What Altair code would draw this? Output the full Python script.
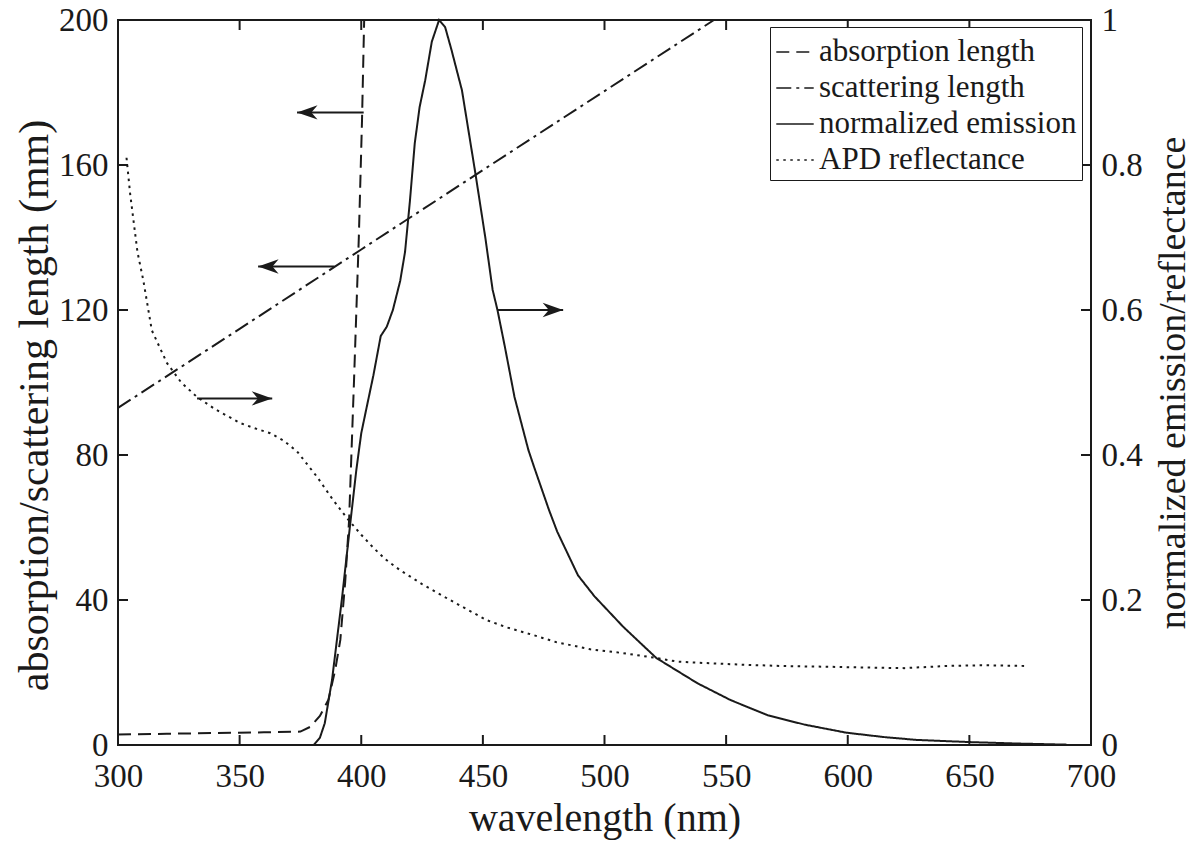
import altair as alt
import pandas as pd

# ---------------- data ----------------
series_names = ["absorption length", "scattering length", "normalized emission", "APD reflectance"]

abs_nm = [300, 320, 340, 360, 375, 379, 383, 386.5, 389.3, 391.4, 393.4, 395.0, 397.0, 399.0, 400.3, 401.2]
abs_mm = [2.9, 3.1, 3.3, 3.5, 3.7, 5.0, 8.0, 12.5, 20.7, 29.0, 45.0, 62.0, 100.0, 140.0, 172.0, 200.0]

sca_nm = [300, 350, 400, 450, 500, 545]
sca_mm = [93.0, 114.8, 136.7, 158.6, 180.4, 200.0]

emi_nm = [380.5, 383, 385, 388, 390, 392, 395.5, 398, 400, 402.3, 405, 408, 410.5, 413, 416, 418, 420,
          422, 424, 426.3, 429, 432, 434.5, 437, 441.4, 446.9, 451, 454, 456, 459, 463, 468.7, 471.2,
          477.2, 480.6, 489.1, 495.9, 507.7, 521.3, 538.3, 551.8, 567.1, 582.4, 599.4, 614.7, 628.3,
          650.4, 670, 690]
emi_v = [0.0, 0.01, 0.03, 0.09, 0.145, 0.2, 0.306, 0.38, 0.43, 0.467, 0.51, 0.564, 0.577, 0.6, 0.64,
         0.68, 0.75, 0.83, 0.88, 0.917, 0.97, 1.0, 0.99, 0.96, 0.903, 0.789, 0.7, 0.628, 0.6, 0.55,
         0.48, 0.407, 0.382, 0.324, 0.294, 0.234, 0.205, 0.163, 0.12, 0.085, 0.062, 0.041, 0.028,
         0.017, 0.011, 0.007, 0.004, 0.002, 0.0005]

ref_nm = [303.5, 305, 308, 310.4, 313.9, 320.1, 326, 332.5, 340, 350.3, 357, 362.6, 368, 373.6, 381.8,
          388, 394.1, 400, 405, 410, 416, 425, 436.5, 451.7, 460, 470.4, 480, 494.2, 507, 521.3, 530,
          541.7, 555, 572.2, 590, 606.2, 623.2, 640.2, 655, 674.1]
ref_v = [0.81, 0.76, 0.68, 0.641, 0.572, 0.527, 0.5, 0.48, 0.463, 0.444, 0.436, 0.43, 0.42, 0.405,
         0.37, 0.34, 0.313, 0.29, 0.272, 0.256, 0.241, 0.222, 0.2, 0.172, 0.162, 0.152, 0.142, 0.132,
         0.127, 0.12, 0.115, 0.113, 0.111, 0.109, 0.108, 0.107, 0.106, 0.109, 0.11, 0.109]

# annotation arrows: (from, tip, level)
arrows_left_from = [401.0, 389.0]
arrows_left_tip = [373.6, 357.6]
arrows_left_y = [174.5, 132.0]
arrows_right_from = [456.2, 332.5]
arrows_right_tip = [483.0, 363.4]
arrows_right_y = [0.6, 0.478]

x_ticks = [300, 350, 400, 450, 500, 550, 600, 650, 700]
yl_ticks = [0, 40, 80, 120, 160, 200]
yr_ticks = [0, 0.2, 0.4, 0.6, 0.8, 1.0]

# ---------------- tables ----------------
left_df = pd.concat([
    pd.DataFrame({"nm": abs_nm, "val": abs_mm, "series": series_names[0], "o": range(len(abs_nm))}),
    pd.DataFrame({"nm": sca_nm, "val": sca_mm, "series": series_names[1], "o": range(len(sca_nm))}),
])
right_df = pd.concat([
    pd.DataFrame({"nm": emi_nm, "val": emi_v, "series": series_names[2], "o": range(len(emi_nm))}),
    pd.DataFrame({"nm": ref_nm, "val": ref_v, "series": series_names[3], "o": range(len(ref_nm))}),
])
al_df = pd.DataFrame({"a": arrows_left_from, "b": arrows_left_tip, "y": arrows_left_y})
ar_df = pd.DataFrame({"a": arrows_right_from, "b": arrows_right_tip, "y": arrows_right_y})
xt_df = pd.DataFrame({"t": x_ticks})
yt_df = pd.DataFrame({"t": yl_ticks})

W, H = 973, 725
FONT = "Liberation Serif"
INK = "#1a1a1a"

dash_scale = alt.Scale(domain=series_names,
                       range=[[13, 7], [15, 5, 3, 5], [1, 0], [2.5, 4.5]])
dash_legend = alt.Legend(
    title=None, orient="none", legendX=652, legendY=7,
    symbolType="stroke", symbolSize=1400, symbolStrokeWidth=1.6, symbolStrokeColor=INK,
    labelFont=FONT, labelFontSize=31, labelColor=INK, labelOffset=4, labelLimit=400,
    rowPadding=1, padding=5, strokeColor=INK, fillColor="white", cornerRadius=0,
)

axis_style = dict(labelFont=FONT, labelFontSize=33, labelColor=INK, labelFlush=False,
                  titleFont=FONT, titleFontWeight="normal", titleColor=INK,
                  ticks=False, domain=False, grid=False)

x_enc = alt.X("nm:Q", scale=alt.Scale(domain=[300, 700], nice=False),
              axis=alt.Axis(values=x_ticks, format="d", title="wavelength (nm)",
                            titleFontSize=40, labelPadding=15, titlePadding=5, **axis_style))

left_lines = alt.Chart(left_df).mark_line(strokeWidth=2, color=INK).encode(
    x=x_enc,
    y=alt.Y("val:Q", scale=alt.Scale(domain=[0, 200], nice=False),
            axis=alt.Axis(values=yl_ticks, format="d", title="absorption/scattering length (mm)",
                          orient="left", titleFontSize=42, titleY=385,
                          labelPadding=10, titlePadding=2, **axis_style)),
    strokeDash=alt.StrokeDash("series:N", scale=dash_scale, legend=dash_legend),
    order="o:Q",
)

arrow_left_shaft = alt.Chart(al_df).mark_rule(strokeWidth=2, color=INK).encode(
    x="a:Q", x2="b:Q", y="y:Q")
arrow_left_head = alt.Chart(al_df).mark_point(
    shape="M0,0 L2,-0.7 L1.4,0 L2,0.7 Z", size=420, filled=True, color=INK, opacity=1
).encode(x="b:Q", y="y:Q")

xtick_bottom = alt.Chart(xt_df).mark_rule(strokeWidth=2, color=INK).encode(
    x="t:Q", y=alt.value(H), y2=alt.value(H - 10))
xtick_top = alt.Chart(xt_df).mark_rule(strokeWidth=2, color=INK).encode(
    x="t:Q", y=alt.value(0), y2=alt.value(10))
ytick_left = alt.Chart(yt_df).mark_rule(strokeWidth=2, color=INK).encode(
    y="t:Q", x=alt.value(0), x2=alt.value(10))
ytick_right = alt.Chart(yt_df).mark_rule(strokeWidth=2, color=INK).encode(
    y="t:Q", x=alt.value(W - 10), x2=alt.value(W))

left = alt.layer(left_lines, arrow_left_shaft, arrow_left_head,
                 xtick_bottom, xtick_top, ytick_left, ytick_right)

right_lines = alt.Chart(right_df).mark_line(strokeWidth=2, color=INK).encode(
    x=x_enc,
    y=alt.Y("val:Q", scale=alt.Scale(domain=[0, 1], nice=False),
            axis=alt.Axis(values=yr_ticks, format="~g", title="normalized emission/reflectance",
                          orient="right", titleFontSize=38, titleAngle=270, titleBaseline="top",
                          labelPadding=10, titlePadding=12, **axis_style)),
    strokeDash=alt.StrokeDash("series:N", scale=dash_scale, legend=dash_legend),
    order="o:Q",
)
arrow_right_shaft = alt.Chart(ar_df).mark_rule(strokeWidth=2, color=INK).encode(
    x="a:Q", x2="b:Q", y="y:Q")
arrow_right_head = alt.Chart(ar_df).mark_point(
    shape="M0,0 L-2,-0.7 L-1.4,0 L-2,0.7 Z", size=420, filled=True, color=INK, opacity=1
).encode(x="b:Q", y="y:Q")

right = alt.layer(right_lines, arrow_right_shaft, arrow_right_head)

chart = alt.layer(left, right).resolve_scale(y="independent").properties(
    width=W, height=H,
    autosize="none",
    background="white",
    padding={"left": 118, "top": 20, "right": 1196 - 118 - W, "bottom": 842 - 20 - H},
).configure_view(
    stroke=INK, strokeWidth=2
)

chart.save("out.html", embed_options={"renderer": "svg", "actions": False})
